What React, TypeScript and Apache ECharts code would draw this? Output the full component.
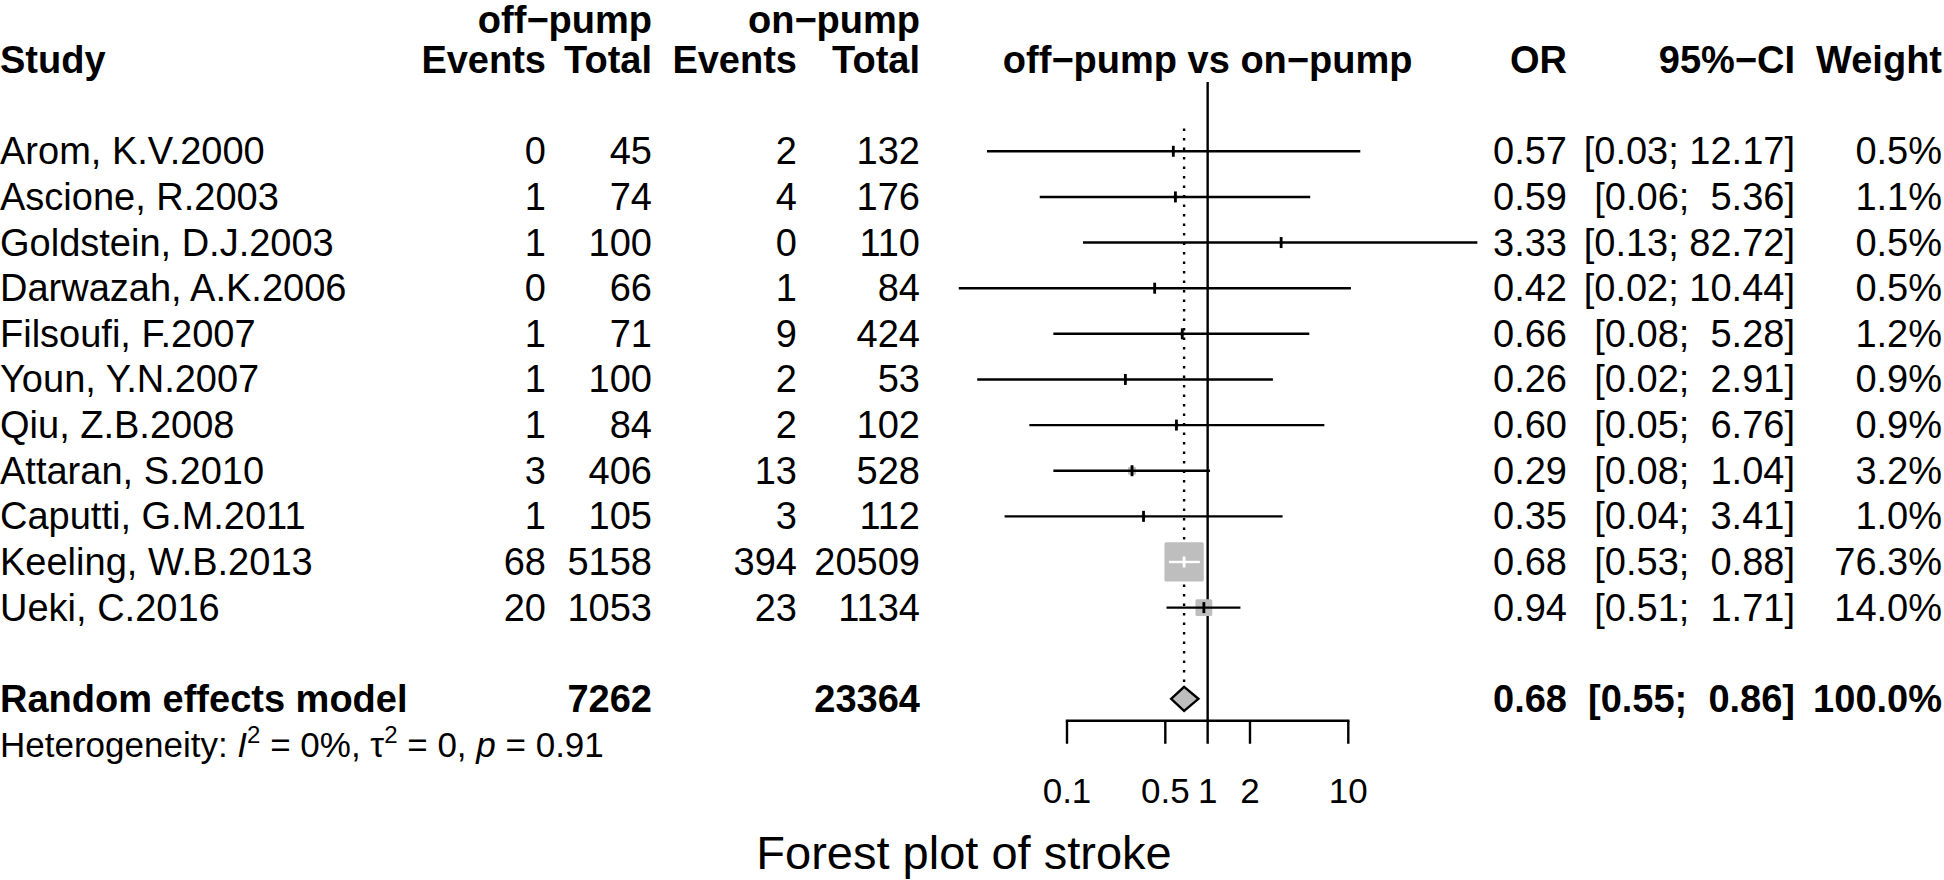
import { useEffect, useRef } from 'react';
import * as echarts from 'echarts';

// ---------------- data ----------------
const studyLabels = [
  'Arom, K.V.2000',
  'Ascione, R.2003',
  'Goldstein, D.J.2003',
  'Darwazah, A.K.2006',
  'Filsoufi, F.2007',
  'Youn, Y.N.2007',
  'Qiu, Z.B.2008',
  'Attaran, S.2010',
  'Caputti, G.M.2011',
  'Keeling, W.B.2013',
  'Ueki, C.2016',
];
const offEvents = [0, 1, 1, 0, 1, 1, 1, 3, 1, 68, 20];
const offTotal = [45, 74, 100, 66, 71, 100, 84, 406, 105, 5158, 1053];
const onEvents = [2, 4, 0, 1, 9, 2, 2, 13, 3, 394, 23];
const onTotal = [132, 176, 110, 84, 424, 53, 102, 528, 112, 20509, 1134];
const oddsRatio = [0.57, 0.59, 3.33, 0.42, 0.66, 0.26, 0.6, 0.29, 0.35, 0.68, 0.94];
const ciLower = [0.027, 0.064, 0.13, 0.017, 0.08, 0.023, 0.054, 0.08, 0.036, 0.53, 0.51];
const ciUpper = [12.17, 5.36, 82.72, 10.44, 5.28, 2.91, 6.76, 1.04, 3.41, 0.88, 1.71];
const weightPct = [0.5, 1.1, 0.5, 0.5, 1.2, 0.9, 0.9, 3.2, 1.0, 76.3, 14.0];

const pooledLabel = 'Random effects model';
const pooledOffTotal = 7262;
const pooledOnTotal = 23364;
const pooledOR = 0.68;
const pooledLower = 0.55;
const pooledUpper = 0.86;
const pooledWeight = 100.0;

const hetI2 = '0%';
const hetTau2 = '0';
const hetP = '0.91';

const axisTickValues = [0.1, 0.5, 1, 2, 10];
const axisTickLabels = ['0.1', '0.5', '1', '2', '10'];

const groupLabels = ['off\u2212pump', 'on\u2212pump'];
const columnLabels = ['Study', 'Events', 'Total', 'Events', 'Total', 'off\u2212pump vs on\u2212pump', 'OR', '95%\u2212CI', 'Weight'];
const chartTitle = 'Forest plot of stroke';

// ---------------- layout ----------------
const W = 1944;
const H = 880;
const ROW_Y0 = 151.3;
const ROW_H = 45.63;
const X_ONE = 1207.65;
const DECADE = 140.65;
const X_MIN = 0.01;
const X_MAX = 100;
const GRID_LEFT = X_ONE - 2 * DECADE;
const GRID_W = 4 * DECADE;
const Y_MIN = -ROW_Y0 / ROW_H;
const Y_MAX = (H - ROW_Y0) / ROW_H;

const COL = {
  study: 0,
  offE: 546,
  offT: 652,
  onE: 797,
  onT: 920,
  or: 1567,
  ci: 1795,
  weight: 1942,
};

const HEADER_ROW = -2;
const GROUP_ROW = -2.885;
const POOLED_ROW = 12;
const HET_ROW = 13;
const AXIS_ROW = 12.48;
const REF_TOP_ROW = -1.52;
const DOT_TOP_ROW = -0.5;
const TICK_LEN = 23;
const TICK_LABEL_OFFSET = 70;
const TITLE_OFFSET = 132;
const DIAMOND_HALF = 12;
const SQUARE_K = 4.5;
const LW = 2.4;

const FONT = '"Liberation Sans", Arial, Helvetica, sans-serif';
const FS = 38;
const GREY = '#BEBEBE';

const fmt2 = (v: number) => v.toFixed(2);
const fmtCI = (lo: number, hi: number) => `[${fmt2(lo)}; ${fmt2(hi).padStart(5, ' ')}]`;
const fmtW = (w: number) => `${w.toFixed(1)}%`;

function txt(x: number, y: number, text: string, align: string, bold = false, size = FS) {
  return {
    type: 'text',
    x,
    y,
    style: {
      text,
      fill: '#000',
      fontFamily: FONT,
      fontSize: size,
      fontWeight: bold ? 'bold' : 'normal',
      align,
      verticalAlign: 'middle',
    },
  };
}

export default function App() {
  const ref = useRef<HTMLDivElement>(null);

  useEffect(() => {
    if (!ref.current) return;
    const chart = echarts.init(ref.current, null, { renderer: 'svg' });

    const refLineSeries = {
      type: 'custom',
      clip: false,
      silent: true,
      encode: { x: 0, y: 1 },
      data: [[1, AXIS_ROW, pooledOR]],
      renderItem: (_p: any, api: any) => {
        const top = api.coord([1, REF_TOP_ROW]);
        const bottom = api.coord([1, api.value(1)]);
        const dTop = api.coord([api.value(2), DOT_TOP_ROW]);
        const dBot = api.coord([api.value(2), POOLED_ROW]);
        return {
          type: 'group',
          children: [
            {
              type: 'line',
              shape: { x1: top[0], y1: top[1], x2: bottom[0], y2: bottom[1] },
              style: { stroke: '#000', lineWidth: LW },
            },
            {
              type: 'line',
              shape: { x1: dTop[0], y1: dTop[1], x2: dBot[0], y2: dBot[1] - DIAMOND_HALF },
              style: { stroke: '#000', lineWidth: 2.4, lineDash: [2.4, 7.1] },
            },
          ],
        };
      },
    };

    const studySeries = {
      type: 'custom',
      clip: false,
      silent: true,
      encode: { x: 0, y: 1 },
      data: studyLabels.map((_, i) => [oddsRatio[i], i, ciLower[i], ciUpper[i], weightPct[i]]),
      renderItem: (_p: any, api: any) => {
        const row = api.value(1);
        const c = api.coord([api.value(0), row]);
        const xl = api.coord([api.value(2), row])[0];
        const xh = api.coord([api.value(3), row])[0];
        const side = SQUARE_K * Math.sqrt(api.value(4));
        const inside = xl >= c[0] - side / 2 && xh <= c[0] + side / 2;
        const col = inside ? '#fff' : '#000';
        return {
          type: 'group',
          children: [
            {
              type: 'rect',
              shape: { x: c[0] - side / 2, y: c[1] - side / 2, width: side, height: side, r: 1.5 },
              style: { fill: GREY },
            },
            {
              type: 'line',
              shape: { x1: xl, y1: c[1], x2: xh, y2: c[1] },
              style: { stroke: col, lineWidth: LW },
            },
            {
              type: 'line',
              shape: { x1: c[0], y1: c[1] - 5.5, x2: c[0], y2: c[1] + 5.5 },
              style: { stroke: col, lineWidth: 2.8 },
            },
          ],
        };
      },
    };

    const diamondSeries = {
      type: 'custom',
      clip: false,
      silent: true,
      encode: { x: 0, y: 1 },
      data: [[pooledOR, POOLED_ROW, pooledLower, pooledUpper]],
      renderItem: (_p: any, api: any) => {
        const row = api.value(1);
        const c = api.coord([api.value(0), row]);
        const xl = api.coord([api.value(2), row])[0];
        const xh = api.coord([api.value(3), row])[0];
        return {
          type: 'polygon',
          shape: {
            points: [
              [xl, c[1]],
              [c[0], c[1] - DIAMOND_HALF],
              [xh, c[1]],
              [c[0], c[1] + DIAMOND_HALF],
            ],
          },
          style: { fill: GREY, stroke: '#000', lineWidth: LW },
        };
      },
    };

    const axisLineSeries = {
      type: 'custom',
      clip: false,
      silent: true,
      encode: { x: 0, y: 1 },
      data: [[axisTickValues[0], AXIS_ROW, axisTickValues[axisTickValues.length - 1]]],
      renderItem: (_p: any, api: any) => {
        const a = api.coord([api.value(0), api.value(1)]);
        const b = api.coord([api.value(2), api.value(1)]);
        return {
          type: 'line',
          shape: { x1: a[0] - LW / 2, y1: a[1], x2: b[0] + LW / 2, y2: b[1] },
          style: { stroke: '#000', lineWidth: LW },
        };
      },
    };

    const axisTickSeries = {
      type: 'custom',
      clip: false,
      silent: true,
      encode: { x: 0, y: 1 },
      data: axisTickValues.map((v) => [v, AXIS_ROW]),
      renderItem: (params: any, api: any) => {
        const p = api.coord([api.value(0), api.value(1)]);
        return {
          type: 'group',
          children: [
            {
              type: 'line',
              shape: { x1: p[0], y1: p[1], x2: p[0], y2: p[1] + TICK_LEN },
              style: { stroke: '#000', lineWidth: LW },
            },
            txt(p[0], p[1] + TICK_LABEL_OFFSET, axisTickLabels[params.dataIndex], 'center', false, 35),
          ],
        };
      },
    };

    const tableSeries = {
      type: 'custom',
      clip: false,
      silent: true,
      encode: { x: 0, y: 1 },
      data: studyLabels.map((_, i) => [1, i]),
      renderItem: (params: any, api: any) => {
        const i = params.dataIndex;
        const y = api.coord([1, api.value(1)])[1];
        return {
          type: 'group',
          children: [
            txt(COL.study, y, studyLabels[i], 'left'),
            txt(COL.offE, y, String(offEvents[i]), 'right'),
            txt(COL.offT, y, String(offTotal[i]), 'right'),
            txt(COL.onE, y, String(onEvents[i]), 'right'),
            txt(COL.onT, y, String(onTotal[i]), 'right'),
            txt(COL.or, y, fmt2(oddsRatio[i]), 'right'),
            txt(COL.ci, y, fmtCI(ciLower[i], ciUpper[i]), 'right'),
            txt(COL.weight, y, fmtW(weightPct[i]), 'right'),
          ],
        };
      },
    };

    const headerSeries = {
      type: 'custom',
      clip: false,
      silent: true,
      encode: { x: 0, y: 1 },
      data: [[1, HEADER_ROW, GROUP_ROW]],
      renderItem: (_p: any, api: any) => {
        const yh = api.coord([1, api.value(1)])[1];
        const yg = api.coord([1, api.value(2)])[1];
        const xc = api.coord([1, api.value(1)])[0];
        return {
          type: 'group',
          children: [
            txt(COL.offT, yg, groupLabels[0], 'right', true),
            txt(COL.onT, yg, groupLabels[1], 'right', true),
            txt(COL.study, yh, columnLabels[0], 'left', true),
            txt(COL.offE, yh, columnLabels[1], 'right', true),
            txt(COL.offT, yh, columnLabels[2], 'right', true),
            txt(COL.onE, yh, columnLabels[3], 'right', true),
            txt(COL.onT, yh, columnLabels[4], 'right', true),
            txt(xc, yh, columnLabels[5], 'center', true),
            txt(COL.or, yh, columnLabels[6], 'right', true),
            txt(COL.ci, yh, columnLabels[7], 'right', true),
            txt(COL.weight, yh, columnLabels[8], 'right', true),
          ],
        };
      },
    };

    const pooledTextSeries = {
      type: 'custom',
      clip: false,
      silent: true,
      encode: { x: 0, y: 1 },
      data: [[1, POOLED_ROW, HET_ROW, AXIS_ROW]],
      renderItem: (_p: any, api: any) => {
        const y = api.coord([1, api.value(1)])[1];
        const yh = api.coord([1, api.value(2)])[1];
        const ya = api.coord([1, api.value(3)])[1];
        const hetSize = 35;
        return {
          type: 'group',
          children: [
            txt(COL.study, y, pooledLabel, 'left', true),
            txt(COL.offT, y, String(pooledOffTotal), 'right', true),
            txt(COL.onT, y, String(pooledOnTotal), 'right', true),
            txt(COL.or, y, fmt2(pooledOR), 'right', true),
            txt(COL.ci, y, fmtCI(pooledLower, pooledUpper), 'right', true),
            txt(COL.weight, y, fmtW(pooledWeight), 'right', true),
            {
              type: 'text',
              x: COL.study,
              y: yh,
              style: {
                text: `Heterogeneity: {it|I}{sup|2} = ${hetI2}, \u03c4{sup|2} = ${hetTau2}, {it|p} = ${hetP}`,
                fill: '#000',
                fontFamily: FONT,
                fontSize: hetSize,
                lineHeight: 44,
                align: 'left',
                verticalAlign: 'middle',
                rich: {
                  it: { fontStyle: 'italic', fontFamily: FONT, fontSize: hetSize, lineHeight: 44, fill: '#000' },
                  sup: { fontFamily: FONT, fontSize: 24, lineHeight: 24, verticalAlign: 'top', fill: '#000' },
                },
              },
            },
            txt(964, ya + TITLE_OFFSET, chartTitle, 'center', false, 47),
          ],
        };
      },
    };

    const option = {
      animation: false,
      backgroundColor: '#ffffff',
      grid: { left: GRID_LEFT, top: 0, width: GRID_W, height: H },
      xAxis: { type: 'log', logBase: 10, min: X_MIN, max: X_MAX, show: false },
      yAxis: { type: 'value', inverse: true, min: Y_MIN, max: Y_MAX, show: false },
      series: [
        refLineSeries,
        studySeries,
        diamondSeries,
        axisLineSeries,
        axisTickSeries,
        tableSeries,
        headerSeries,
        pooledTextSeries,
      ],
    };
    chart.setOption(option as any);
    return () => chart.dispose();
  }, []);

  return (
    <div
      ref={ref}
      style={{ position: 'fixed', left: 0, top: 0, width: W, height: H, background: '#fff' }}
    />
  );
}
